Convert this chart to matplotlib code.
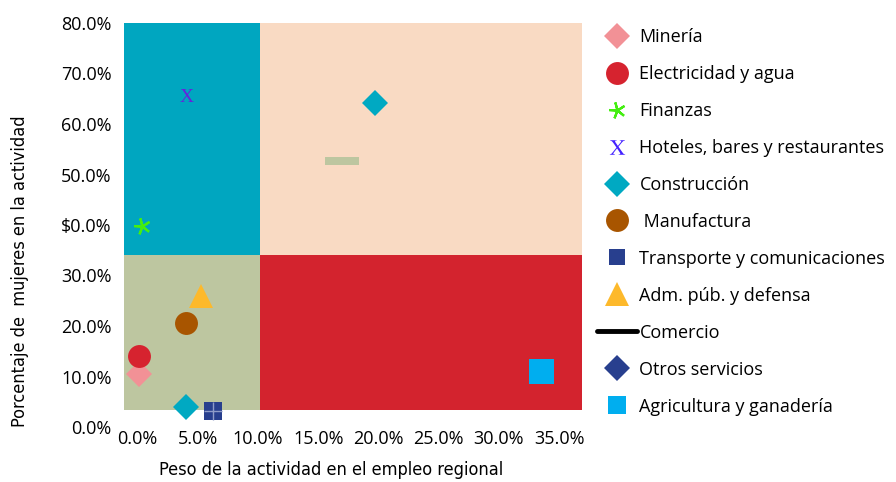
import matplotlib
matplotlib.use("Agg")
from matplotlib import pyplot as plt
from matplotlib.lines import Line2D
from matplotlib.patches import Rectangle

plt.rcParams["mathtext.fontset"] = "stix"

# sectors: x = weight in regional employment (%), y = share of women (%)
sectors = ["Minería", "Electricidad y agua", "Finanzas", "Hoteles, bares y restaurantes",
           "Construcción", "Manufactura", "Transporte y comunicaciones",
           "Adm. púb. y defensa", "Comercio", "Otros servicios", "Agricultura y ganadería"]
peso = [0.1, 0.1, 0.4, 4.1, 4.0, 4.0, 6.3, 5.3, 17.0, 19.7, 33.5]
mujeres = [10.5, 14.1, 39.8, 65.3, 4.0, 20.6, 3.2, 26.0, 52.7, 64.2, 11.1]
point_colors = ["#F29196", "#D6232F", "#44EE11", "#6622DD", "#00A9C2", "#A85500",
                "#283F8E", "#FDB92B", "#BDC6A0", "#00A9C2", "#00AEEF"]
legend_colors = ["#F29196", "#D6232F", "#44EE11", "#4422FF", "#00A9C2", "#A85500",
                 "#283F8E", "#FDB92B", "black", "#283F8E", "#00AEEF"]

x_ticks = [0, 5, 10, 15, 20, 25, 30, 35]
y_ticks = [0, 10, 20, 30, 40, 50, 60, 70, 80]
y_labels = ["0.0%", "10.0%", "20.0%", "30.0%", "$0.0%", "50.0%", "60.0%", "70.0%", "80.0%"]

x_split, y_split = 10.2, 34.1
x_min, x_max = -1.13, 36.9
y_floor = 3.4

FONT = "Open Sans"

fig = plt.figure(figsize=(8.96, 4.82), dpi=100)
ax = fig.add_axes([124 / 896, 55 / 482, 458 / 896, 404 / 482])
ax.set_xlim(x_min, x_max)
ax.set_ylim(0, 80)

# quadrants
ax.add_patch(Rectangle((x_min, y_split), x_split - x_min, 80 - y_split, color="#00A6C0", lw=0))
ax.add_patch(Rectangle((x_split, y_split), x_max - x_split, 80 - y_split, color="#F9DAC3", lw=0))
ax.add_patch(Rectangle((x_min, y_floor), x_split - x_min, y_split - y_floor, color="#BDC6A0", lw=0))
ax.add_patch(Rectangle((x_split, y_floor), x_max - x_split, y_split - y_floor, color="#D3232E", lw=0))

bar = [(-2.1, -0.5), (2.1, -0.5), (2.1, 0.5), (-2.1, 0.5), (-2.1, -0.5)]
markers = ["D", "o", (5, 2, 15), None, "D", "o", "s", "^", bar, "D", "s"]
sizes = [13, 16.5, 12, 0, 13, 16.5, 13.5, 17, 24.5, 13, 18]

for i, name in enumerate(sectors):
    if markers[i] is None:
        ax.text(peso[i], mujeres[i], "X", color=point_colors[i], fontsize=14,
                family="Liberation Serif", ha="center", va="center", zorder=3)
        continue
    lw = 1.6 if i == 2 else 0
    ax.plot(peso[i], mujeres[i], marker=markers[i], ms=sizes[i], color=point_colors[i],
            mec=point_colors[i], mew=lw, ls="none", zorder=3)
    if i == 6:
        ax.plot(peso[i], mujeres[i], marker="+", ms=13.5, mew=1, color="#8F9CC8",
                ls="none", zorder=4)

ax.set_xticks(x_ticks)
ax.set_xticklabels(["%.1f%%" % v for v in x_ticks])
ax.set_yticks(y_ticks)
ax.set_yticklabels(y_labels)
ax.tick_params(length=0, labelsize=13, pad=2)
ax.tick_params(axis="y", pad=9)
for lab in ax.get_xticklabels() + ax.get_yticklabels():
    lab.set_family(FONT)
for s in ax.spines.values():
    s.set_visible(False)

fig.text(331 / 896, 1 - 470 / 482, "Peso de la actividad en el empleo regional",
         family="DejaVu Sans", stretch="condensed", fontsize=13, ha="center", va="center")
fig.text(20 / 896, 1 - 271 / 482, "Porcentaje de  mujeres en la actividad",
         family="DejaVu Sans", stretch="condensed", fontsize=13, ha="center", va="center",
         rotation=90)

# legend
handles = []
leg_markers = ["D", "o", (5, 2, 15), "$\\mathrm{X}$", "D", "o", "s", "^", None, "D", "s"]
leg_sizes = [13, 16.5, 12, 11, 13, 16.5, 12, 17, 0, 13, 13]
for i, name in enumerate(sectors):
    if leg_markers[i] is None:
        h = Line2D([], [], color="black", lw=3.5, solid_capstyle="round")
    else:
        h = Line2D([], [], marker=leg_markers[i], ms=leg_sizes[i], color=legend_colors[i],
                   mew=1.6 if i == 2 else 0, ls="none")
    handles.append(h)
labels = [(" " + s if s == "Manufactura" else s) for s in sectors]
leg = ax.legend(handles, labels, loc="upper left", bbox_to_anchor=(597 / 896, 1 - 28 / 482),
                bbox_transform=fig.transFigure, frameon=False,
                handlelength=2.2, handletextpad=0.15, labelspacing=1.05,
                borderpad=0, borderaxespad=0, prop={"family": FONT, "size": 13})

fig.savefig("out.png", dpi=100)
